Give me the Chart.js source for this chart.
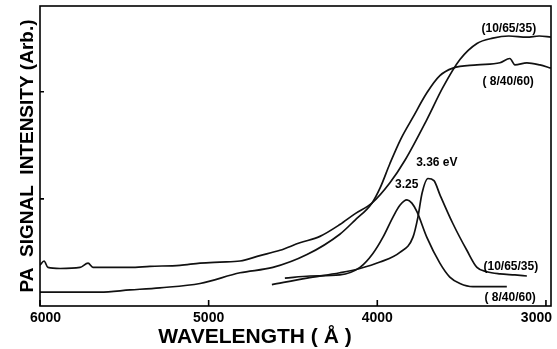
<!DOCTYPE html>
<html>
<head>
<meta charset="utf-8">
<script src="https://cdn.jsdelivr.net/npm/chart.js@4.4.1/dist/chart.umd.min.js"></script>
<style>
  html, body { margin: 0; padding: 0; background: #fff; }
  #wrap { width: 557px; height: 349px; }
</style>
</head>
<body>
<div id="wrap"><canvas id="pa"></canvas></div>
<script>
// wavelength (angstrom) / PA signal (arb.)

// broad absorption edge, (10/65/35)
var wlEdgeA  = [6000, 5976, 5953, 5881, 5763, 5715, 5686, 5585, 5466, 5348, 5170, 5051, 4933, 4814, 4696, 4577, 4459, 4340, 4222, 4133, 4032, 3925, 3836, 3706, 3611, 3510, 3409, 3315, 3220, 3113, 3040, 2971];
var sigEdgeA = [0.38, 0.42, 0.36, 0.35, 0.36, 0.40, 0.36, 0.36, 0.36, 0.37, 0.38, 0.40, 0.41, 0.42, 0.47, 0.52, 0.59, 0.65, 0.76, 0.86, 0.96, 1.15, 1.36, 1.74, 2.04, 2.30, 2.45, 2.50, 2.52, 2.51, 2.52, 2.51];

// broad absorption edge, (8/40/60)
var wlEdgeB  = [6000, 5881, 5644, 5466, 5289, 5051, 4814, 4619, 4417, 4222, 4133, 4032, 3984, 3925, 3860, 3789, 3706, 3629, 3552, 3409, 3273, 3214, 3184, 3113, 3036, 2971];
var sigEdgeB = [0.13, 0.13, 0.13, 0.15, 0.17, 0.21, 0.31, 0.36, 0.48, 0.67, 0.80, 0.96, 1.10, 1.33, 1.56, 1.76, 1.99, 2.15, 2.22, 2.25, 2.27, 2.31, 2.25, 2.27, 2.25, 2.22];

// emission-like peak at 3.36 eV, (10/65/35)
var wlPeakA  = [4625, 4417, 4222, 4103, 3984, 3866, 3789, 3759, 3735, 3700, 3664, 3629, 3552, 3469, 3409, 3350, 3273, 3184, 3113];
var sigPeakA = [0.20, 0.26, 0.31, 0.35, 0.41, 0.50, 0.64, 0.83, 1.05, 1.19, 1.17, 1.04, 0.77, 0.52, 0.36, 0.32, 0.30, 0.29, 0.28];

// peak at 3.25 eV, (8/40/60)
var wlPeakB  = [4548, 4399, 4222, 4103, 4026, 3967, 3907, 3866, 3824, 3795, 3765, 3706, 3629, 3570, 3510, 3433, 3332, 3232];
var sigPeakB = [0.26, 0.28, 0.29, 0.36, 0.49, 0.64, 0.83, 0.94, 0.99, 0.96, 0.88, 0.64, 0.40, 0.27, 0.21, 0.18, 0.18, 0.18];

var xTicks = [6000, 5000, 4000, 3000];
var yTicks = [1, 2];

// curve labels written on the plot
var notes = [
    { text: '(10/65/35)', wl: 3220, v: 2.59 },
    { text: '( 8/40/60)', wl: 3224, v: 2.09 },
    { text: '3.36 eV',    wl: 3647, v: 1.34 },
    { text: '3.25',       wl: 3826, v: 1.13 },
    { text: '(10/65/35)', wl: 3208, v: 0.37 },
    { text: '( 8/40/60)', wl: 3212, v: 0.08 }
];

function toPoints(xs, ys) {
    return xs.map(function(x, i) { return { x: x, y: ys[i] }; });
}

function curve(label, xs, ys) {
    return {
        label: label,
        data: toPoints(xs, ys),
        showLine: true,
        borderColor: '#111',
        borderWidth: 1.7,
        pointRadius: 0,
        cubicInterpolationMode: 'monotone',
        fill: false
    };
}

var FONT = '"Liberation Sans", Arial, sans-serif';

// box, inward ticks, tick labels, x title and curve notes
var framePlugin = {
    id: 'frame',
    afterDraw: function(chart) {
        var ctx = chart.ctx;
        var a = chart.chartArea;
        var xs = chart.scales.x;
        var ys = chart.scales.y;
        ctx.save();
        ctx.strokeStyle = '#000';
        ctx.lineWidth = 1.6;
        ctx.strokeRect(a.left, a.top, a.right - a.left, a.bottom - a.top);

        ctx.beginPath();
        xs.ticks.forEach(function(t) {
            var px = xs.getPixelForValue(t.value);
            ctx.moveTo(px, a.bottom);
            ctx.lineTo(px, a.bottom - 6);
        });
        ys.ticks.forEach(function(t) {
            var py = ys.getPixelForValue(t.value);
            ctx.moveTo(a.left, py);
            ctx.lineTo(a.left + 4, py);
        });
        ctx.stroke();

        ctx.fillStyle = '#000';
        ctx.textAlign = 'center';
        ctx.textBaseline = 'middle';
        ctx.font = 'bold 14px ' + FONT;
        xs.ticks.forEach(function(t) {
            var label = String(t.value);
            var w = ctx.measureText(label).width;
            var px = xs.getPixelForValue(t.value);
            px = Math.max(px, a.left - 10 + w / 2);
            px = Math.min(px, a.right + 1 - w / 2);
            ctx.fillText(label, px, a.bottom + 12);
        });

        ctx.font = 'bold 21px ' + FONT;
        ctx.fillText('WAVELENGTH ( Å )', 255, 337);

        ctx.font = 'bold 12px ' + FONT;
        notes.forEach(function(n) {
            ctx.fillText(n.text, xs.getPixelForValue(n.wl), ys.getPixelForValue(n.v));
        });
        ctx.restore();
    }
};

var ctx = document.getElementById('pa').getContext('2d');
var chart = new Chart(ctx, {
    type: 'scatter',
    data: {
        datasets: [
            curve('edge 10/65/35', wlEdgeA, sigEdgeA),
            curve('edge 8/40/60', wlEdgeB, sigEdgeB),
            curve('peak 10/65/35', wlPeakA, sigPeakA),
            curve('peak 8/40/60', wlPeakB, sigPeakB)
        ]
    },
    options: {
        responsive: true,
        maintainAspectRatio: false,
        animation: false,
        devicePixelRatio: 1,
        layout: { padding: { top: 6, right: 6, left: 0, bottom: 0 } },
        plugins: {
            legend: { display: false },
            tooltip: { enabled: false }
        },
        scales: {
            x: {
                type: 'linear',
                min: 2970,
                max: 6000,
                reverse: true,
                grid: { display: false },
                border: { display: false },
                ticks: { display: false },
                afterBuildTicks: function(s) { s.ticks = xTicks.map(function(v) { return { value: v }; }); },
                afterFit: function(s) { s.height = 43; }
            },
            y: {
                min: 0,
                max: 2.8,
                grid: { display: false },
                border: { display: false },
                ticks: { display: false },
                afterBuildTicks: function(s) { s.ticks = yTicks.map(function(v) { return { value: v }; }); },
                afterFit: function(s) { s.width = 40; },
                title: {
                    display: true,
                    text: 'PA  SIGNAL  INTENSITY (Arb.)',
                    color: '#000',
                    font: { family: FONT, size: 19, weight: 'bold' },
                    padding: { top: 16, bottom: 0 }
                }
            }
        }
    },
    plugins: [framePlugin]
});
</script>
</body>
</html>
